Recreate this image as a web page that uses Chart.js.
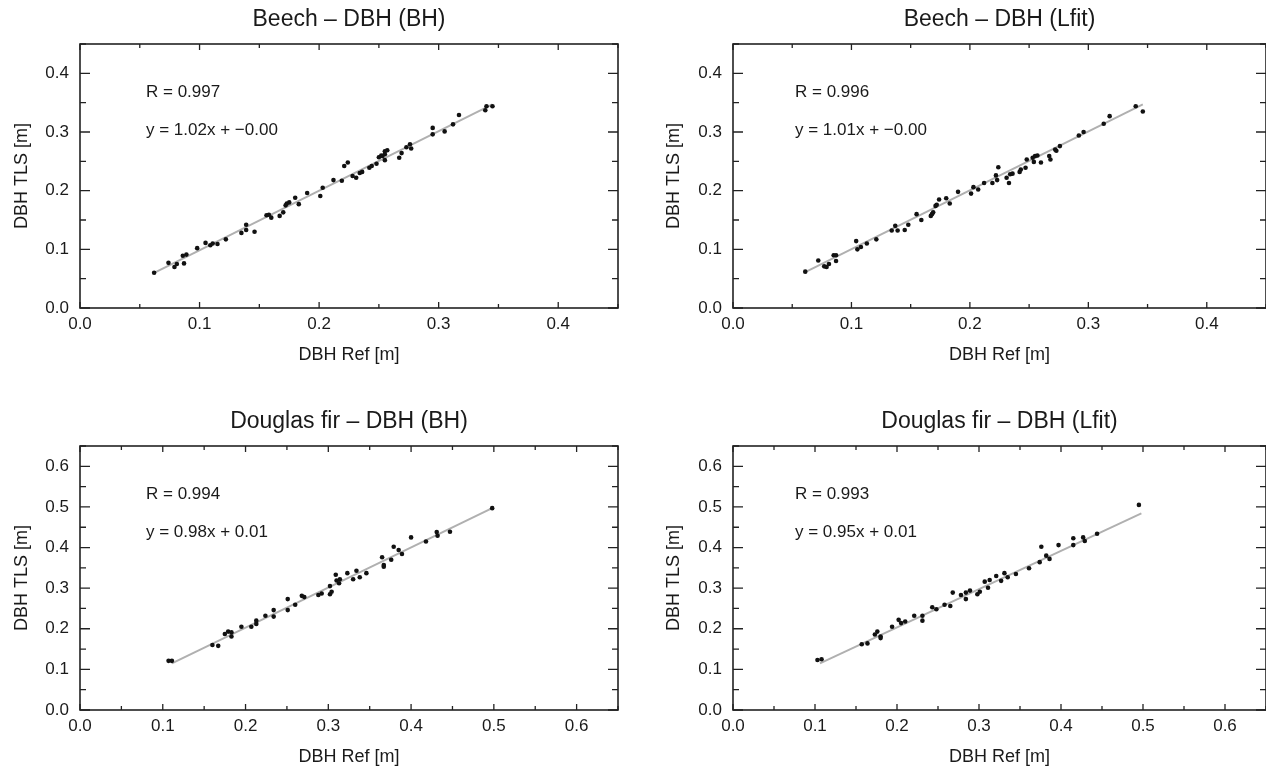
<!DOCTYPE html>
<html><head><meta charset="utf-8">
<script src="https://cdn.jsdelivr.net/npm/chart.js@4.4.0/dist/chart.umd.min.js"></script>
<style>
html,body{margin:0;padding:0;background:#fff;overflow:hidden;width:1266px;height:769px;position:relative;}
canvas{position:absolute;}
</style></head><body>
<canvas id="c1" width="633" height="384" style="left:0;top:0"></canvas>
<canvas id="c2" width="640" height="384" style="left:633px;top:0"></canvas>
<canvas id="c3" width="633" height="385" style="left:0;top:384px"></canvas>
<canvas id="c4" width="640" height="385" style="left:633px;top:384px"></canvas>
<script>
// ---------- data ----------
const panelTitles = ['Beech \u2013 DBH (BH)', 'Beech \u2013 DBH (Lfit)', 'Douglas fir \u2013 DBH (BH)', 'Douglas fir \u2013 DBH (Lfit)'];
const xAxisTitle = 'DBH Ref [m]';
const yAxisTitle = 'DBH TLS [m]';
const rLabels = ['R = 0.997', 'R = 0.996', 'R = 0.994', 'R = 0.993'];
const eqLabels = ['y = 1.02x + \u22120.00', 'y = 1.01x + \u22120.00', 'y = 0.98x + 0.01', 'y = 0.95x + 0.01'];

const beechTicks = [0.0, 0.1, 0.2, 0.3, 0.4];
const beechTickLabels = ['0.0', '0.1', '0.2', '0.3', '0.4'];
const beechMax = 0.45;
const dougTicks = [0.0, 0.1, 0.2, 0.3, 0.4, 0.5, 0.6];
const dougTickLabels = ['0.0', '0.1', '0.2', '0.3', '0.4', '0.5', '0.6'];
const dougMax = 0.65;

const beechBhX = [0.062,0.074,0.079,0.081,0.086,0.089,0.087,0.098,0.105,0.109,0.111,0.115,0.122,0.135,0.139,0.139,0.146,0.156,0.158,0.160,0.167,0.170,0.172,0.173,0.175,0.180,0.183,0.190,0.201,0.203,0.212,0.219,0.221,0.224,0.228,0.231,0.234,0.236,0.242,0.244,0.248,0.250,0.252,0.253,0.255,0.257,0.255,0.255,0.267,0.269,0.273,0.276,0.277,0.295,0.295,0.305,0.312,0.317,0.339,0.340,0.345];
const beechBhY = [0.060,0.077,0.070,0.075,0.089,0.091,0.076,0.102,0.111,0.107,0.110,0.109,0.117,0.128,0.142,0.133,0.130,0.158,0.159,0.154,0.157,0.163,0.175,0.178,0.180,0.188,0.177,0.196,0.191,0.205,0.218,0.217,0.242,0.248,0.225,0.222,0.230,0.232,0.239,0.242,0.246,0.257,0.260,0.259,0.267,0.269,0.262,0.252,0.256,0.264,0.274,0.279,0.272,0.307,0.296,0.301,0.313,0.329,0.337,0.344,0.344];
const beechBhLineX = [0.062, 0.345];
const beechBhLineY = [0.060, 0.347];

const beechLfX = [0.061,0.072,0.077,0.079,0.081,0.085,0.087,0.087,0.104,0.105,0.108,0.113,0.121,0.134,0.137,0.139,0.145,0.148,0.155,0.159,0.167,0.168,0.169,0.171,0.172,0.174,0.180,0.183,0.190,0.201,0.203,0.207,0.212,0.219,0.222,0.224,0.223,0.231,0.233,0.234,0.236,0.242,0.243,0.247,0.248,0.253,0.255,0.257,0.254,0.260,0.267,0.268,0.272,0.273,0.276,0.292,0.296,0.313,0.318,0.340,0.346];
const beechLfY = [0.062,0.081,0.071,0.070,0.075,0.090,0.090,0.080,0.114,0.100,0.104,0.110,0.117,0.132,0.140,0.132,0.133,0.142,0.160,0.150,0.157,0.160,0.163,0.174,0.176,0.185,0.187,0.178,0.198,0.195,0.206,0.202,0.213,0.213,0.226,0.240,0.218,0.222,0.213,0.228,0.229,0.232,0.236,0.239,0.253,0.256,0.259,0.260,0.249,0.248,0.259,0.253,0.270,0.268,0.276,0.294,0.300,0.314,0.327,0.344,0.335];
const beechLfLineX = [0.061, 0.346];
const beechLfLineY = [0.061, 0.347];

const dougBhX = [0.107,0.111,0.160,0.167,0.175,0.179,0.183,0.183,0.195,0.207,0.213,0.213,0.224,0.234,0.234,0.251,0.251,0.260,0.268,0.271,0.288,0.292,0.302,0.304,0.302,0.309,0.310,0.314,0.313,0.323,0.330,0.334,0.338,0.346,0.365,0.367,0.367,0.376,0.379,0.385,0.389,0.400,0.418,0.431,0.432,0.447,0.498];
const dougBhY = [0.121,0.121,0.160,0.158,0.187,0.193,0.181,0.191,0.205,0.205,0.212,0.220,0.232,0.230,0.246,0.273,0.246,0.259,0.281,0.278,0.283,0.287,0.285,0.291,0.305,0.333,0.319,0.322,0.312,0.337,0.322,0.343,0.327,0.337,0.376,0.357,0.353,0.370,0.402,0.394,0.384,0.425,0.415,0.438,0.429,0.439,0.497];
const dougBhLineX = [0.111, 0.498];
const dougBhLineY = [0.115, 0.497];

const dougLfX = [0.103,0.108,0.157,0.164,0.173,0.176,0.180,0.180,0.194,0.202,0.205,0.210,0.221,0.231,0.231,0.243,0.248,0.258,0.265,0.268,0.278,0.284,0.284,0.289,0.298,0.301,0.307,0.313,0.311,0.321,0.327,0.331,0.335,0.345,0.361,0.374,0.376,0.382,0.386,0.397,0.415,0.415,0.427,0.429,0.444,0.495];
const dougLfY = [0.123,0.125,0.162,0.164,0.186,0.193,0.181,0.177,0.205,0.222,0.214,0.218,0.232,0.220,0.232,0.253,0.248,0.259,0.256,0.289,0.283,0.273,0.289,0.294,0.285,0.291,0.316,0.320,0.301,0.330,0.318,0.337,0.327,0.335,0.349,0.364,0.402,0.380,0.372,0.406,0.423,0.406,0.425,0.416,0.434,0.505];
const dougLfLineX = [0.106, 0.498];
const dougLfLineY = [0.115, 0.484];

// ---------- drawing ----------
const FAMILY = '"Liberation Sans", Arial, Helvetica, sans-serif';
const TXT = '#1a1a1a';
const TITLE_SIZE = 23, AX_SIZE = 18, TICK_SIZE = 17, ANN_SIZE = 17;
const LH = 1.2;

const framePlugin = {
  id: 'frameTicks',
  afterDatasetsDraw(chart, args, opts) {
    const {ctx, chartArea: a, scales: {x, y}} = chart;
    ctx.save();
    ctx.strokeStyle = '#222';
    ctx.lineWidth = 1.6;
    ctx.strokeRect(a.left, a.top, a.right - a.left, a.bottom - a.top);
    ctx.lineWidth = 1.3;
    const xs = x.ticks.map(t => t.value);
    const ys = y.ticks.map(t => t.value);
    const half = (xs[1] - xs[0]) / 2;
    ctx.beginPath();
    for (let k = 0; xs[0] + k * half <= x.max + 1e-9; k++) {
      const px = x.getPixelForValue(xs[0] + k * half);
      const len = k % 2 === 0 ? 6 : 4;
      ctx.moveTo(px, a.bottom); ctx.lineTo(px, a.bottom - len);
      ctx.moveTo(px, a.top); ctx.lineTo(px, a.top + len);
    }
    const hy = (ys[1] - ys[0]) / 2;
    for (let k = 0; ys[0] + k * hy <= y.max + 1e-9; k++) {
      const py = y.getPixelForValue(ys[0] + k * hy);
      const len = k % 2 === 0 ? 10 : 6;
      ctx.moveTo(a.left, py); ctx.lineTo(a.left + len, py);
      ctx.moveTo(a.right, py); ctx.lineTo(a.right - len, py);
    }
    ctx.stroke();
    ctx.fillStyle = TXT;
    ctx.font = ANN_SIZE + 'px ' + FAMILY;
    ctx.textBaseline = 'alphabetic';
    ctx.textAlign = 'left';
    ctx.fillText(opts.r, a.left + opts.dx, a.top + 53);
    ctx.fillText(opts.eq, a.left + opts.dx, a.top + 91);
    ctx.restore();
  }
};

function toPts(xs, ys) { return xs.map((v, i) => ({x: v, y: ys[i]})); }

function makePanel(id, geo, idx, xs, ys, lx, ly, ticks, tickLabels, maxV) {
  const tLH = TITLE_SIZE * LH, aLH = AX_SIZE * LH;
  const cw = geo.cw, ch = geo.ch;
  const padLeft = geo.yTitleX - aLH / 2 - geo.cl;
  const yAxisW = geo.l - geo.yTitleX + aLH / 2;
  const padRight = geo.cl + cw - geo.r;
  const padTop = geo.titleY - tLH / 2 - geo.ct;
  const titleBottom = geo.t - (geo.titleY + tLH / 2);
  const xAxisH = geo.xTitleY + aLH / 2 - geo.b;
  const padBottom = geo.ct + ch - (geo.xTitleY + aLH / 2);
  const font = {family: FAMILY, size: TICK_SIZE};
  const axisCommon = (titleText, isX) => ({
    type: 'linear', min: 0, max: maxV,
    afterBuildTicks: s => { s.ticks = ticks.map(v => ({value: v})); },
    ticks: {callback: (v, i) => tickLabels[i], font, color: TXT, padding: isX ? 6 : 11, maxRotation: 0, autoSkip: false},
    grid: {display: false, drawTicks: false},
    border: {display: false},
    title: {display: true, text: titleText, font: {family: FAMILY, size: AX_SIZE}, color: TXT, padding: 0},
    afterFit: s => { if (isX) s.height = xAxisH; else s.width = yAxisW; }
  });
  new Chart(document.getElementById(id), {
    type: 'scatter',
    data: {datasets: [
      {data: toPts(xs, ys), pointRadius: 2.3, pointBackgroundColor: '#111', pointBorderWidth: 0, order: 0},
      {data: toPts(lx, ly), showLine: true, pointRadius: 0, borderColor: '#b0b0b0', borderWidth: 2, order: 1}
    ]},
    options: {
      responsive: false, animation: false, devicePixelRatio: 1,
      layout: {padding: {left: padLeft, right: padRight, top: padTop, bottom: padBottom}},
      plugins: {
        legend: {display: false}, tooltip: {enabled: false},
        title: {display: true, fullSize: false, text: panelTitles[idx], color: TXT, font: {family: FAMILY, size: TITLE_SIZE, weight: 'normal'}, padding: {top: 0, bottom: titleBottom}},
        frameTicks: {r: rLabels[idx], eq: eqLabels[idx], dx: geo.annDx}
      },
      scales: {x: axisCommon(xAxisTitle, true), y: axisCommon(yAxisTitle, false)}
    },
    plugins: [framePlugin]
  });
}

const G1 = {cl: 0, ct: 0, cw: 633, ch: 384, l: 80, t: 44, r: 618, b: 308, yTitleX: 22, titleY: 20, xTitleY: 355, annDx: 66};
const G2 = {cl: 633, ct: 0, cw: 640, ch: 384, l: 733, t: 44, r: 1266, b: 308, yTitleX: 674, titleY: 20, xTitleY: 355, annDx: 62};
const G3 = {cl: 0, ct: 384, cw: 633, ch: 385, l: 80, t: 446, r: 618, b: 710, yTitleX: 22, titleY: 422, xTitleY: 757, annDx: 66};
const G4 = {cl: 633, ct: 384, cw: 640, ch: 385, l: 733, t: 446, r: 1266, b: 710, yTitleX: 674, titleY: 422, xTitleY: 757, annDx: 62};

makePanel('c1', G1, 0, beechBhX, beechBhY, beechBhLineX, beechBhLineY, beechTicks, beechTickLabels, beechMax);
makePanel('c2', G2, 1, beechLfX, beechLfY, beechLfLineX, beechLfLineY, beechTicks, beechTickLabels, beechMax);
makePanel('c3', G3, 2, dougBhX, dougBhY, dougBhLineX, dougBhLineY, dougTicks, dougTickLabels, dougMax);
makePanel('c4', G4, 3, dougLfX, dougLfY, dougLfLineX, dougLfLineY, dougTicks, dougTickLabels, dougMax);
</script>
</body></html>
